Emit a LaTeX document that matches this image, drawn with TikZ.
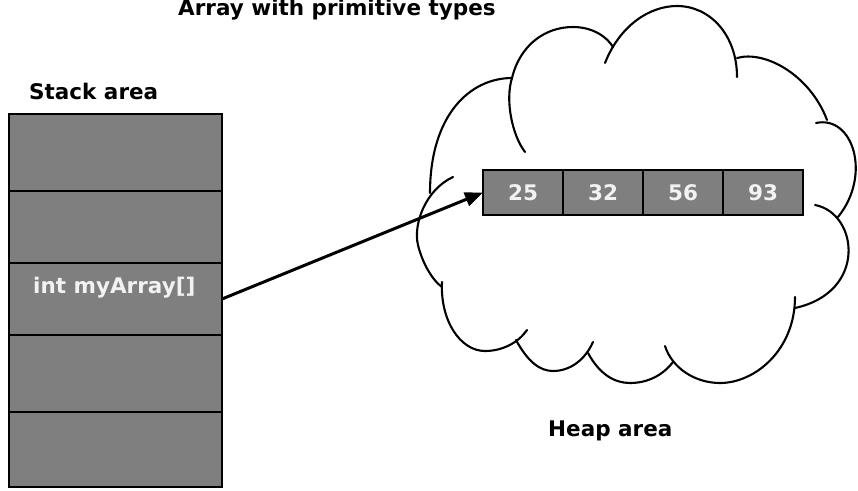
\documentclass[tikz,border=0pt]{standalone}
\usepackage{fontspec}
\setmainfont{DejaVu Sans}
\usetikzlibrary{arrows.meta}
\definecolor{cellgray}{RGB}{127,127,127}
\definecolor{celltext}{RGB}{242,242,242}
\begin{document}
\begin{tikzpicture}[x=1pt,y=-1pt,
  lbl/.style={font=\fontsize{21.5}{25}\selectfont\bfseries, text=black, inner sep=0pt, anchor=base west},
  stackcell/.style={draw=black, line width=2.2pt, fill=cellgray, minimum width=213pt, anchor=north west, inner sep=0pt, outer sep=0pt},
  arrcell/.style={draw=black, line width=1.6pt, fill=cellgray, minimum width=80pt, minimum height=45pt, anchor=north west, inner sep=0pt, outer sep=0pt, text=celltext, font=\fontsize{21.5}{25}\selectfont\bfseries},
  cloudline/.style={line width=2.1pt, line cap=round},
  ptr/.style={line width=3pt, -{Triangle[length=18pt, width=14pt]}}
]
\fill[white] (0,0) rectangle (858,490);
\useasboundingbox (0,0) rectangle (858,490);

% titles
\node[lbl] (title) at (178,15) {Array with primitive types};
\node[lbl] (stacklbl) at (29,99) {Stack area};
\node[lbl] (heaplbl) at (548,436) {Heap area};

% heap cloud, one arc per lobe
\draw[cloudline] (525,152) .. controls (512,135) and (505,100) .. (512,78)
                 .. controls (520,45) and (545,27) .. (573,27)
                 .. controls (593,27) and (607,37) .. (613,47);
\draw[cloudline] (605,63) .. controls (620,25) and (650,6) .. (677,6)
                 .. controls (710,6) and (737,35) .. (737,77);
\draw[cloudline] (737,58) .. controls (765,50) and (810,75) .. (827,120);
\draw[cloudline] (816,123) .. controls (853,115) and (872,175) .. (838,217);
\draw[cloudline] (815,205) .. controls (858,213) and (868,292) .. (795,308);
\draw[cloudline] (795,297) .. controls (795,350) and (755,383) .. (720,383)
                 .. controls (695,383) and (672,368) .. (665,346);
\draw[cloudline] (588,353) .. controls (600,375) and (615,383) .. (630,383)
                 .. controls (648,383) and (663,375) .. (673,362);
\draw[cloudline] (516,340) .. controls (528,362) and (540,371) .. (553,371)
                 .. controls (570,371) and (585,360) .. (593,342);
\draw[cloudline] (442,282) .. controls (440,320) and (460,351) .. (485,351)
                 .. controls (502,351) and (518,343) .. (527,330);
\draw[cloudline] (453,177) .. controls (425,190) and (413,225) .. (418,245)
                 .. controls (422,262) and (432,280) .. (442,287);
\draw[cloudline] (512,78) .. controls (470,78) and (430,115) .. (430,193);

% stack frames
\node[stackcell, minimum height=77pt] (s1) at (9,114) {};
\node[stackcell, minimum height=72pt] (s2) at (9,191) {};
\node[stackcell, minimum height=72pt] (s3) at (9,263) {};
\node[stackcell, minimum height=77pt] (s4) at (9,335) {};
\node[stackcell, minimum height=75pt] (s5) at (9,412) {};
\node[lbl, text=celltext] (var) at (33,293) {int myArray[]};

% array on the heap
\node[arrcell] (a1) at (483,170) {25};
\node[arrcell] (a2) at (563,170) {32};
\node[arrcell] (a3) at (643,170) {56};
\node[arrcell] (a4) at (723,170) {93};

% reference from the stack variable to the array
\draw[ptr] (s3.east) -- (a1.west);
\end{tikzpicture}
\end{document}
